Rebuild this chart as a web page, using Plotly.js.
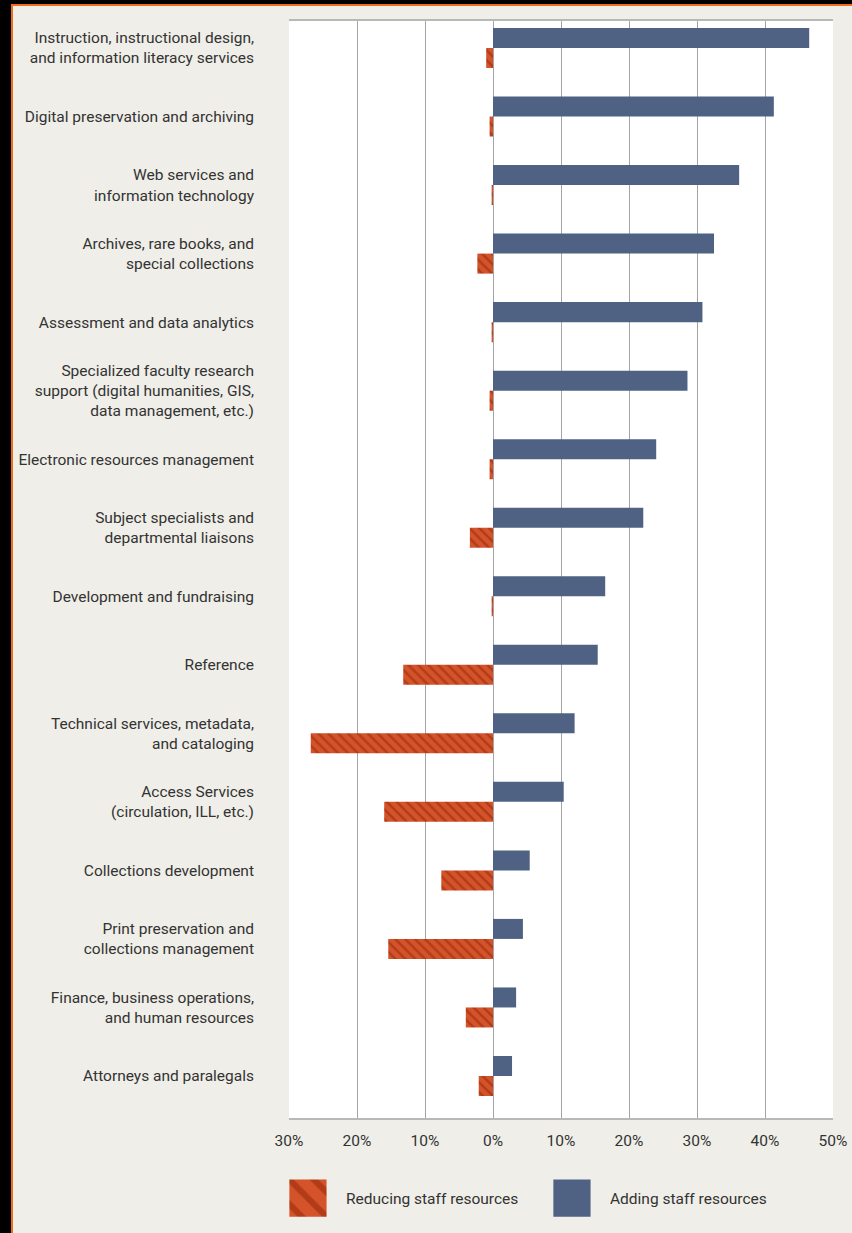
<!DOCTYPE html>
<html>
<head>
<meta charset="utf-8">
<script src="https://cdn.plot.ly/plotly-3.0.1.min.js"></script>
<style>
  html, body { margin: 0; padding: 0; background: #000; }
  #wrap { position: relative; width: 852px; height: 1233px; overflow: hidden; background: #000; }
  #frame { position: absolute; left: 11px; top: 4px; width: 860px; height: 1250px;
           background: #efeee8; border-top: 2px solid #f26b21; border-left: 2px solid #f26b21; }
  #chart { position: absolute; left: 0; top: 0; width: 852px; height: 1233px; }
</style>
</head>
<body>
<div id="wrap">
  <div id="frame"></div>
  <div id="chart"></div>
</div>
<script>
const categories = [
  "Instruction, instructional design,<br>and information literacy services",
  "Digital preservation and archiving",
  "Web services and<br>information technology",
  "Archives, rare books, and<br>special collections",
  "Assessment and data analytics",
  "Specialized faculty research<br>support (digital humanities, GIS,<br>data management, etc.)",
  "Electronic resources management",
  "Subject specialists and<br>departmental liaisons",
  "Development and fundraising",
  "Reference",
  "Technical services, metadata,<br>and cataloging",
  "Access Services<br>(circulation, ILL, etc.)",
  "Collections development",
  "Print preservation and<br>collections management",
  "Finance, business operations,<br>and human resources",
  "Attorneys and paralegals"
];
// Percent of respondents
const adding   = [46.5, 41.3, 36.2, 32.5, 30.8, 28.6, 24.0, 22.1, 16.5, 15.4, 12.0, 10.4, 5.4, 4.4, 3.4, 2.8];
const reducing = [1.0, 0.5, 0.2, 2.3, 0.2, 0.5, 0.5, 3.4, 0.2, 13.2, 26.8, 16.0, 7.6, 15.4, 4.0, 2.1];
const reducingNeg = reducing.map(v => -v);

const tickVals = [-30, -20, -10, 0, 10, 20, 30, 40, 50];
const tickText = ["30%", "20%", "10%", "0%", "10%", "20%", "30%", "40%", "50%"];

const FONT = 'Roboto, "Liberation Sans Narrow", sans-serif';
const FS = 15.5;

const traces = [
  {
    type: 'bar', orientation: 'h', name: 'Adding staff resources',
    y: categories, x: adding,
    marker: { color: '#506283', line: { width: 0 } },
    legendrank: 2, hoverinfo: 'skip'
  },
  {
    type: 'bar', orientation: 'h', name: 'Reducing staff resources',
    y: categories, x: reducingNeg,
    marker: { color: '#d4532a', line: { width: 0 },
              pattern: { shape: '\\', fgcolor: '#b23c17', bgcolor: '#d4532a', size: 7, solidity: 0.35 } },
    legendrank: 1, hoverinfo: 'skip'
  }
];

const layout = {
  width: 852, height: 1233,
  paper_bgcolor: 'rgba(0,0,0,0)',
  plot_bgcolor: '#ffffff',
  margin: { l: 289, r: 19, t: 21, b: 115 },
  barmode: 'group', bargap: 0.416, bargroupgap: 0,
  font: { family: FONT, size: FS, color: '#333333' },
  showlegend: true,
  legend: {
    orientation: 'h', x: -0.035, xanchor: 'left', y: -0.058, yanchor: 'top',
    font: { family: FONT, size: FS, color: '#333333' },
    itemwidth: 66, entrywidth: 183, bgcolor: 'rgba(0,0,0,0)',
    itemclick: false, itemdoubleclick: false
  },
  xaxis: {
    range: [-30, 50], tickmode: 'array', tickvals: tickVals, ticktext: tickText,
    showgrid: true, gridcolor: '#a4a4a4', gridwidth: 1,
    zeroline: false, showline: true, linecolor: '#b8b8b8', linewidth: 2, mirror: true,
    ticks: '', ticklabelstandoff: 7,
    tickfont: { family: FONT, size: FS, color: '#333333' }, fixedrange: true
  },
  yaxis: {
    type: 'category', categoryorder: 'array', categoryarray: categories,
    range: [15.613, -0.394],
    showgrid: false, zeroline: false, showline: false, ticks: '',
    ticklabelstandoff: 34,
    tickfont: { family: FONT, size: FS, color: '#333333' }, fixedrange: true
  }
};

function fixLegend() {
  const gd = document.getElementById('chart');
  gd.querySelectorAll('.legend .legendpoints path').forEach(p => {
    if (p.dataset.scaled) return;
    const t = p.getAttribute('transform') || '';
    p.setAttribute('transform', t + ' scale(3.1)');
    p.dataset.scaled = '1';
  });
  gd.querySelectorAll('.legend .scrollbox').forEach(s => s.removeAttribute('clip-path'));
  gd.querySelectorAll('.legend').forEach(s => s.removeAttribute('clip-path'));
}

Plotly.newPlot('chart', traces, layout, { staticPlot: true, displayModeBar: false }).then(gd => {
  fixLegend();
  gd.on('plotly_afterplot', fixLegend);
});
</script>
</body>
</html>
